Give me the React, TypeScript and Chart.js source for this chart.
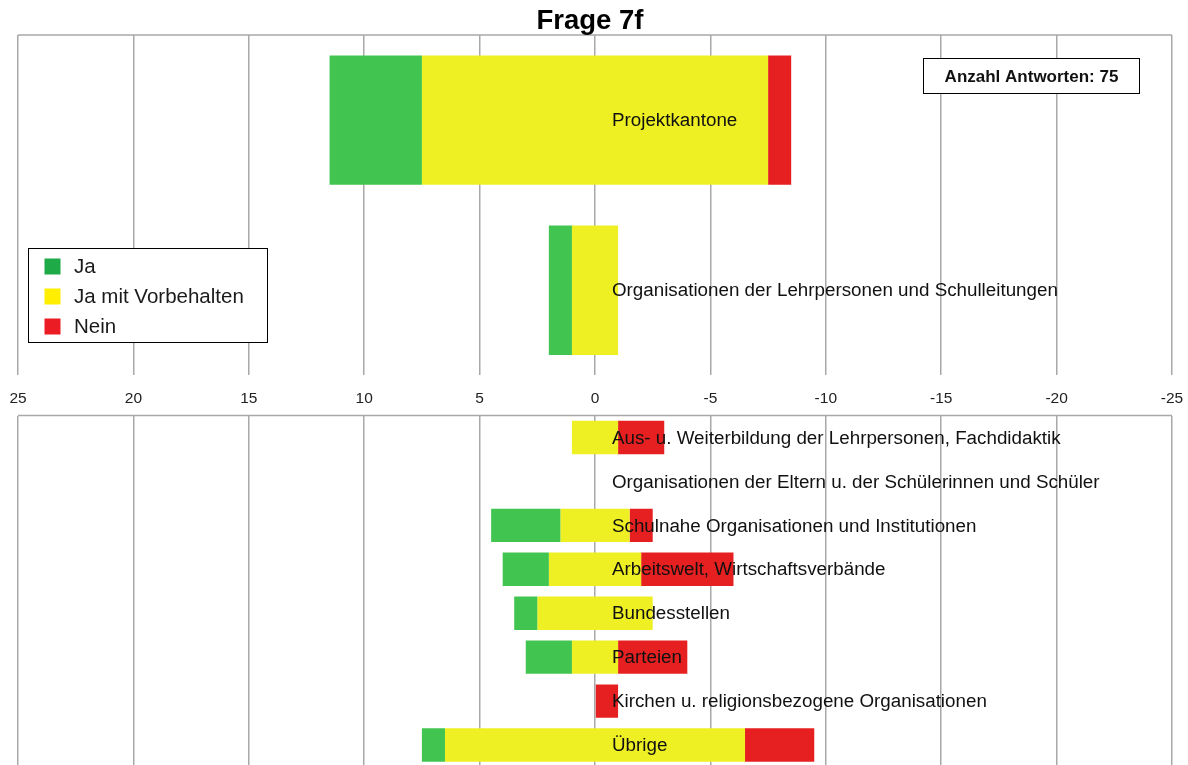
import React, { useEffect, useRef } from "react";
import { Chart, registerables } from "chart.js";

Chart.register(...registerables);

// ---------- data ----------
const chartTitle = "Frage 7f";
const seriesNames = ["Ja", "Ja mit Vorbehalten", "Nein"];
const totalAnswers = 75;

const topCategories = [
  "Projektkantone",
  "Organisationen der Lehrpersonen und Schulleitungen",
];
const topJa = [4, 1];
const topJaMitVorbehalten = [15, 2];
const topNein = [1, 0];

const bottomCategories = [
  "Aus- u. Weiterbildung der Lehrpersonen, Fachdidaktik",
  "Organisationen der Eltern u. der Schülerinnen und Schüler",
  "Schulnahe Organisationen und Institutionen",
  "Arbeitswelt, Wirtschaftsverbände",
  "Bundesstellen",
  "Parteien",
  "Kirchen u. religionsbezogene Organisationen",
  "Übrige",
];
const bottomJa = [0, 0, 3, 2, 1, 2, 0, 1];
const bottomJaMitVorbehalten = [2, 0, 3, 4, 5, 2, 0, 13];
const bottomNein = [2, 0, 1, 4, 0, 3, 1, 3];

const axisMin = -25;
const axisMax = 25;
const axisStep = 5;

// ---------- styles ----------
const FONT = "'Liberation Sans', Arial, Helvetica, sans-serif";
const BAR_COLORS = ["#42C550", "#EEF024", "#E62020"];
const LEGEND_COLORS = ["#1FAA48", "#FFEE00", "#EC1C24"];
const GRID_COLOR = "#a8a8a8";

function buildDatasets(ja: number[], jm: number[], nein: number[]) {
  const green = ja.map((v, i) => (v ? [jm[i] / 2, jm[i] / 2 + v] : null));
  const yellow = jm.map((v) => (v ? [v / 2, -v / 2] : null));
  const red = nein.map((v, i) => (v ? [-jm[i] / 2, -jm[i] / 2 - v] : null));
  return [green, yellow, red].map((data, k) => ({
    label: seriesNames[k],
    data: data as any,
    backgroundColor: BAR_COLORS[k],
    borderWidth: 0,
    barPercentage: 0.76,
    categoryPercentage: 1,
  }));
}

const categoryLabelPlugin = {
  id: "categoryLabels",
  afterDatasetsDraw(chart: any) {
    const { ctx } = chart;
    const xs = chart.scales.x;
    const ys = chart.scales.y;
    const labels: string[] = chart.data.labels;
    ctx.save();
    ctx.font = `18.8px ${FONT}`;
    ctx.fillStyle = "#111";
    ctx.textAlign = "left";
    ctx.textBaseline = "middle";
    const x = xs.getPixelForValue(0) + 17;
    labels.forEach((lab, i) => {
      ctx.fillText(lab, x, ys.getPixelForValue(i) + 1);
    });
    ctx.restore();
  },
};

const topBorderPlugin = {
  id: "topBorder",
  beforeDatasetsDraw(chart: any) {
    const { ctx, chartArea } = chart;
    ctx.save();
    ctx.strokeStyle = GRID_COLOR;
    ctx.lineWidth = 1.5;
    ctx.beginPath();
    ctx.moveTo(chartArea.left, chartArea.top);
    ctx.lineTo(chartArea.right, chartArea.top);
    ctx.stroke();
    ctx.restore();
  },
};

const titlePlugin = {
  id: "offsetTitle",
  afterDraw(chart: any) {
    const { ctx, chartArea } = chart;
    ctx.save();
    ctx.font = `bold 27.5px ${FONT}`;
    ctx.fillStyle = "#000";
    ctx.textAlign = "center";
    ctx.textBaseline = "middle";
    ctx.fillText(chartTitle, (chartArea.left + chartArea.right) / 2 - 5, chartArea.top - 14);
    ctx.restore();
  },
};

const legendBoxPlugin = {
  id: "legendBox",
  afterDraw(chart: any) {
    const { ctx, chartArea } = chart;
    const bx = chartArea.left + 10.5;
    const by = chartArea.top + 213.5;
    const bw = 239;
    const bh = 94;
    ctx.save();
    ctx.fillStyle = "#fff";
    ctx.fillRect(bx, by, bw, bh);
    ctx.strokeStyle = "#000";
    ctx.lineWidth = 1;
    ctx.strokeRect(bx, by, bw, bh);
    ctx.font = `20.5px ${FONT}`;
    ctx.textAlign = "left";
    ctx.textBaseline = "middle";
    seriesNames.forEach((name, k) => {
      const cy = by + 18 + k * 30;
      ctx.fillStyle = LEGEND_COLORS[k];
      ctx.fillRect(bx + 16, cy - 8, 16, 16);
      ctx.fillStyle = "#1a1a1a";
      ctx.fillText(name, bx + 45.5, cy + 1);
    });
    ctx.restore();
  },
};

const countBoxPlugin = {
  id: "countBox",
  afterDraw(chart: any) {
    const { ctx, chartArea } = chart;
    const bw = 216;
    const bh = 35;
    const bx = chartArea.right - 33 - bw + 0.5;
    const by = chartArea.top + 23.5;
    ctx.save();
    ctx.fillStyle = "#fff";
    ctx.fillRect(bx, by, bw, bh);
    ctx.strokeStyle = "#000";
    ctx.lineWidth = 1;
    ctx.strokeRect(bx, by, bw, bh);
    ctx.font = `bold 17px ${FONT}`;
    ctx.fillStyle = "#111";
    ctx.textAlign = "center";
    ctx.textBaseline = "middle";
    ctx.fillText(`Anzahl Antworten: ${totalAnswers}`, bx + bw / 2, by + bh / 2 + 1);
    ctx.restore();
  },
};

export default function App() {
  const topRef = useRef<HTMLCanvasElement>(null);
  const botRef = useRef<HTMLCanvasElement>(null);

  useEffect(() => {
    const xBase = {
      type: "linear" as const,
      reverse: true,
      min: axisMin,
      max: axisMax,
      stacked: false,
    };

    const top = new Chart(topRef.current!, {
      type: "bar",
      data: {
        labels: topCategories,
        datasets: buildDatasets(topJa, topJaMitVorbehalten, topNein),
      },
      options: {
        indexAxis: "y",
        responsive: false,
        animation: false,
        layout: { padding: { left: 18, right: 16, top: 35, bottom: 2 } },
        plugins: {
          legend: { display: false },
          tooltip: { enabled: false },
          title: { display: false, text: chartTitle },
        },
        scales: {
          x: {
            ...xBase,
            position: "bottom",
            ticks: {
              stepSize: axisStep,
              color: "#222",
              font: { family: FONT, size: 15.5 },
              padding: 0,
            },
            grid: {
              color: GRID_COLOR,
              lineWidth: 1.5,
              drawTicks: true,
              tickLength: 14,
              tickColor: "rgba(0,0,0,0)",
            },
            border: { display: false },
          },
          y: { type: "category", stacked: true, display: false },
        },
      },
      plugins: [topBorderPlugin, categoryLabelPlugin, legendBoxPlugin, countBoxPlugin, titlePlugin],
    } as any);

    const bottom = new Chart(botRef.current!, {
      type: "bar",
      data: {
        labels: bottomCategories,
        datasets: buildDatasets(bottomJa, bottomJaMitVorbehalten, bottomNein),
      },
      options: {
        indexAxis: "y",
        responsive: false,
        animation: false,
        layout: { padding: { left: 18, right: 16, top: 5.5, bottom: 3 } },
        plugins: {
          legend: { display: false },
          tooltip: { enabled: false },
          title: { display: false },
        },
        scales: {
          x: {
            ...xBase,
            position: "top",
            ticks: { stepSize: axisStep, display: false },
            grid: { color: GRID_COLOR, lineWidth: 1.5, drawTicks: false },
            border: { display: false },
          },
          y: { type: "category", stacked: true, display: false },
        },
      },
      plugins: [topBorderPlugin, categoryLabelPlugin],
    } as any);

    return () => {
      top.destroy();
      bottom.destroy();
    };
  }, []);

  return (
    <div
      style={{
        position: "fixed",
        left: 0,
        top: 0,
        width: 1188,
        height: 765,
        overflow: "hidden",
        background: "#fff",
      }}
    >
      <canvas
        ref={topRef}
        width={1188}
        height={410}
        style={{ position: "absolute", left: 0, top: 0 }}
      />
      <canvas
        ref={botRef}
        width={1188}
        height={360}
        style={{ position: "absolute", left: 0, top: 410 }}
      />
    </div>
  );
}
